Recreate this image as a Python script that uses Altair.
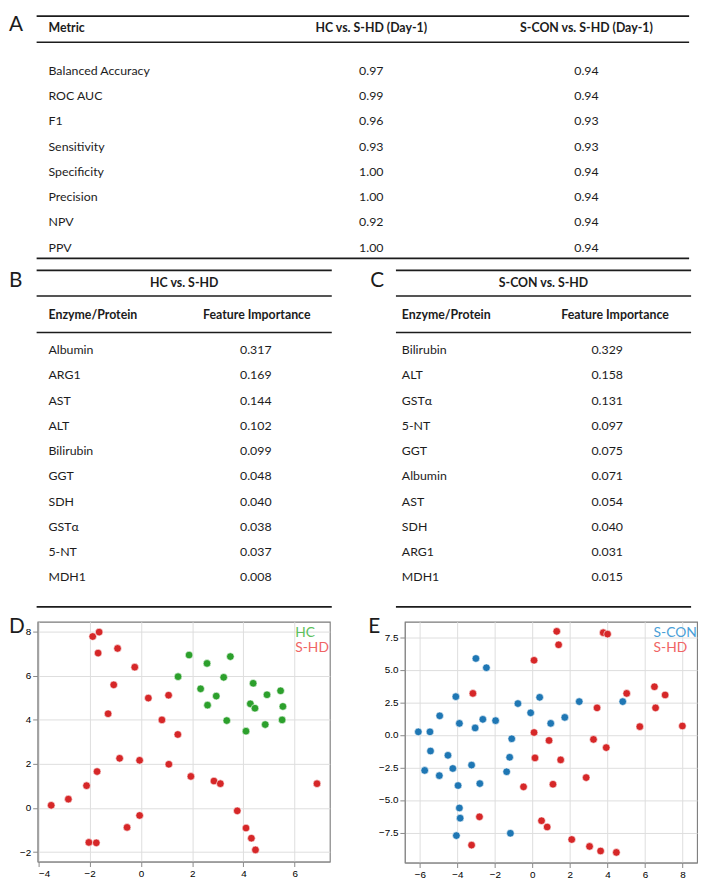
import altair as alt
import pandas as pd

# ---------------- Table A ----------------
table_a_headers = ["Metric", "HC vs. S-HD (Day-1)", "S-CON vs. S-HD (Day-1)"]
metric_names = ["Balanced Accuracy", "ROC AUC", "F1", "Sensitivity",
                "Specificity", "Precision", "NPV", "PPV"]
hc_metrics = [0.97, 0.99, 0.96, 0.93, 1.00, 1.00, 0.92, 1.00]
scon_metrics = [0.94, 0.94, 0.93, 0.93, 0.94, 0.94, 0.94, 0.94]

# ---------------- Tables B and C ----------------
col_headers = ["Enzyme/Protein", "Feature Importance"]
b_title = "HC vs. S-HD"
b_proteins = ["Albumin", "ARG1", "AST", "ALT", "Bilirubin", "GGT", "SDH", "GSTα", "5-NT", "MDH1"]
b_importance = [0.317, 0.169, 0.144, 0.102, 0.099, 0.048, 0.040, 0.038, 0.037, 0.008]
c_title = "S-CON vs. S-HD"
c_proteins = ["Bilirubin", "ALT", "GSTα", "5-NT", "GGT", "Albumin", "AST", "SDH", "ARG1", "MDH1"]
c_importance = [0.329, 0.158, 0.131, 0.097, 0.075, 0.071, 0.054, 0.040, 0.031, 0.015]

# ---------------- Scatter D (HC vs S-HD) ----------------
d_hc_x = [1.88, 2.58, 3.49, 1.45, 3.23, 2.33, 4.38, 2.94, 2.60, 4.27, 4.45, 4.92, 5.45, 5.54, 3.35, 5.51, 4.85, 4.10]
d_hc_y = [6.93, 6.55, 6.86, 5.95, 5.92, 5.40, 5.65, 5.07, 4.66, 4.72, 4.52, 5.13, 5.31, 4.60, 3.96, 3.99, 3.78, 3.48]
d_shd_x = [-1.88, -1.63, -1.67, -0.91, -0.24, -1.06, 0.29, 1.08, -1.28, 0.82, 1.44, -0.83, -0.05, 1.09, -1.71,
           -2.12, 1.95, 2.85, 3.10, 6.87, -3.50, -2.83, -0.05, -0.54, -2.03, -1.74, 3.76, 4.10, 4.31, 4.47]
d_shd_y = [7.77, 7.97, 7.02, 7.23, 6.38, 5.58, 4.98, 5.11, 4.27, 3.99, 3.33, 2.25, 2.16, 1.98, 1.65,
           1.01, 1.43, 1.22, 1.10, 1.10, 0.12, 0.40, -0.34, -0.88, -1.56, -1.58, -0.13, -0.91, -1.37, -1.90]

# ---------------- Scatter E (S-CON vs S-HD) ----------------
e_scon_x = [-6.08, -5.46, -5.43, -5.74, -4.94, -4.96, -4.50, -4.24, -4.08, -3.89, -3.96, -3.89, -3.85, -4.05,
            -3.24, -3.05, -3.01, -2.45, -2.64, -2.80, -1.96, -1.10, -1.21, -1.37, -1.17, -0.77, -0.09, 0.39,
            0.98, 1.73, 2.50, 4.82]
e_scon_y = [0.23, 0.23, -1.24, -2.73, 1.46, -3.13, -1.57, -2.58, 2.93, 0.88, -3.89, -5.61, -6.39, -7.73,
            -2.32, 0.53, 5.86, 5.15, 1.19, -3.74, 1.09, -0.30, -1.72, -2.83, -7.55, 2.40, 1.69, 2.88,
            0.88, 1.34, 2.55, 2.55]
e_shd_x = [1.30, 1.40, 3.78, 4.01, 0.09, -3.17, 5.03, 6.51, 7.08, 6.57, 3.45, 5.73, 8.00, 0.09, 0.89,
           3.26, 3.94, 0.14, 1.51, 2.87, 1.10, -0.47, -2.82, 0.49, 0.79, -3.24, 2.10, 3.05, 3.64, 4.48]
e_shd_y = [7.94, 6.91, 7.84, 7.73, 5.72, 3.18, 3.18, 3.69, 3.06, 2.07, 2.07, 0.63, 0.68, 0.18, -0.43,
           -0.35, -0.98, -1.77, -1.92, -3.28, -3.79, -3.99, -6.29, -6.59, -7.07, -8.46, -8.03, -8.56, -8.91, -9.02]

d_x_ticks = [-4, -2, 0, 2, 4, 6]
d_y_ticks = [-2, 0, 2, 4, 6, 8]
e_x_ticks = [-6, -4, -2, 0, 2, 4, 6, 8]
e_y_ticks = [-7.5, -5.0, -2.5, 0.0, 2.5, 5.0, 7.5]

FONT = "Lato"
TXT = "#1c1c1c"
FS = 12.5
NOFRAME = alt.ViewBackground(stroke="transparent")


def one_row(**cols):
    return alt.Chart(pd.DataFrame({k: [v] for k, v in cols.items()}))


def label(text, x, y, size=FS, weight="normal", align="left", color=TXT):
    return one_row(t=text).mark_text(
        font=FONT, fontSize=size, fontWeight=weight, align=align,
        baseline="middle", color=color
    ).encode(x=alt.value(x), y=alt.value(y), text="t:N")


def rule(x1, x2, y, w=1.8, color="#1c1c1c"):
    return one_row(k=0).mark_rule(color=color, strokeWidth=w).encode(
        x=alt.value(x1), x2=alt.value(x2), y=alt.value(y))


txt_kw = dict(font=FONT, fontSize=FS, baseline="middle", color=TXT)

# ---- Table A chart (origin aligned with panel D's plot area) ----
dfA = pd.DataFrame({"row": list(range(len(metric_names))), "metric": metric_names,
                    "hc": hc_metrics, "scon": scon_metrics})
yA = alt.Y("row:Q", scale=alt.Scale(domain=[0, len(metric_names) - 1], range=[57, 236]), axis=None)
baseA = alt.Chart(dfA)
chartA = alt.layer(
    label("A", -29, 11, size=21),
    rule(-1, 660, 1.5), rule(-1, 660, 28, 1.5), rule(-1, 660, 247),
    label(table_a_headers[0], 11, 14, weight="bold"),
    label(table_a_headers[1], 338, 14, weight="bold", align="center"),
    label(table_a_headers[2], 556, 14, weight="bold", align="center"),
    baseA.mark_text(align="left", **txt_kw).encode(x=alt.value(11), y=yA, text="metric:N"),
    baseA.mark_text(align="center", **txt_kw).encode(x=alt.value(338), y=yA, text=alt.Text("hc:Q", format=".2f")),
    baseA.mark_text(align="center", **txt_kw).encode(x=alt.value(556), y=yA, text=alt.Text("scon:Q", format=".2f")),
).properties(width=661, height=252, view=NOFRAME)


def importance_table(letter, letter_x, title, proteins, importance, x1, x2, enz_x, fi_x, val_x, width):
    df = pd.DataFrame({"row": list(range(len(proteins))), "p": proteins, "v": importance})
    y = alt.Y("row:Q", scale=alt.Scale(domain=[0, len(proteins) - 1], range=[86, 316]), axis=None)
    base = alt.Chart(df)
    return alt.layer(
        label(letter, letter_x, 16, size=21),
        rule(x1, x2, 5), rule(x1, x2, 31, 1.5), rule(x1, x2, 68, 1.5), rule(x1, x2, 346),
        label(title, (x1 + x2) / 2, 18, weight="bold", align="center"),
        label(col_headers[0], enz_x, 50, weight="bold"),
        label(col_headers[1], fi_x, 50, weight="bold", align="center"),
        base.mark_text(align="left", **txt_kw).encode(x=alt.value(enz_x), y=y, text="p:N"),
        base.mark_text(align="center", **txt_kw).encode(x=alt.value(val_x), y=y, text=alt.Text("v:Q", format=".3f")),
    ).properties(width=width, height=353, view=NOFRAME)


chartB = importance_table("B", -29, b_title, b_proteins, b_importance, -1, 298, 11, 222, 221, 316)
chartC = importance_table("C", 19, c_title, c_proteins, c_importance, 45, 344, 51, 267, 259, 345)


def scatter(letter, letter_x, groups, xdom, ydom, xticks, yticks, yfmt, legend_x, height):
    rows = []
    for name, xs, ys, _c, _lc in groups:
        for xv, yv in zip(xs, ys):
            rows.append({"x": xv, "y": yv, "group": name})
    df = pd.DataFrame(rows)
    names = [g[0] for g in groups]
    colors = [g[3] for g in groups]
    pts = alt.Chart(df).mark_circle(size=60, opacity=1, stroke="white", strokeWidth=0.6).encode(
        x=alt.X("x:Q", scale=alt.Scale(domain=xdom, nice=False, zero=False),
                axis=alt.Axis(values=xticks, format="d", title=None)),
        y=alt.Y("y:Q", scale=alt.Scale(domain=ydom, nice=False, zero=False),
                axis=alt.Axis(values=yticks, format=yfmt, title=None, minExtent=29)),
        color=alt.Color("group:N", scale=alt.Scale(domain=names, range=colors), legend=None),
    )
    layers = [pts, label(letter, letter_x, 5, size=21)]
    for i, g in enumerate(groups):
        layers.append(label(g[0], legend_x, 11 + 15.5 * i, size=14, color=g[4]))
    return alt.layer(*layers).properties(
        width=296, height=height,
        view=alt.ViewBackground(stroke="#7a7a7a", strokeWidth=1.1))


chartD = scatter("D", -29,
                 [("HC", d_hc_x, d_hc_y, "#2ca02c", "#5cbf5c"),
                  ("S-HD", d_shd_x, d_shd_y, "#d62728", "#f06464")],
                 [-4.03, 7.37], [-2.43, 8.44], d_x_ticks, d_y_ticks, "d", 261, 243)
chartE = scatter("E", -37,
                 [("S-CON", e_scon_x, e_scon_y, "#1f77b4", "#4a9fd8"),
                  ("S-HD", e_shd_x, e_shd_y, "#d62728", "#f06464")],
                 [-6.8, 8.78], [-9.8, 8.68], e_x_ticks, e_y_ticks, ".1f", 252, 244)

row3 = alt.hconcat(chartD, chartE, spacing=37).resolve_scale(color="independent", x="independent", y="independent")

chart = alt.vconcat(
    chartA,
    alt.hconcat(chartB, chartC, spacing=0),
    row3,
    spacing=0,
).resolve_scale(x="independent", y="independent").properties(padding=0).configure_view(
    stroke="transparent"
).configure_axis(
    labelFont="DejaVu Sans", labelFontSize=8.5, labelColor="#333333",
    tickColor="#444444", tickSize=3.5, tickWidth=0.9, labelPadding=2,
    domain=False, grid=False,
).configure(background="white")

chart.save("out.html", embed_options={"renderer": "svg", "actions": False})
